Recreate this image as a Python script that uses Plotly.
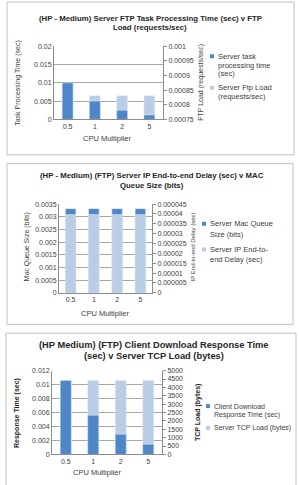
import plotly.graph_objects as go

W, H = 299, 485

categories = ["0.5", "1", "2", "5"]

# Chart 1
c1_task_time = [0.01, 0.005, 0.0025, 0.0012]
c1_ftp_load = [0.000831, 0.000831, 0.000831, 0.000831]
c1_left_ticks = [0, 0.005, 0.01, 0.015, 0.02]
c1_left_labels = ["0", "0.005", "0.01", "0.015", "0.02"]
c1_right_ticks = [0.00075, 0.0008, 0.00085, 0.0009, 0.00095, 0.001]
c1_right_labels = ["0.00075", "0.0008", "0.00085", "0.0009", "0.00095", "0.001"]

# Chart 2
c2_mac_queue = [0.00332, 0.00332, 0.00332, 0.00332]
c2_ip_delay = [0.0000397, 0.0000397, 0.0000397, 0.0000397]
c2_left_ticks = [0, 0.0005, 0.001, 0.0015, 0.002, 0.0025, 0.003, 0.0035]
c2_left_labels = ["0", "0.0005", "0.001", "0.0015", "0.002", "0.0025", "0.003", "0.0035"]
c2_right_ticks = [0, 0.000005, 0.00001, 0.000015, 0.00002, 0.000025, 0.00003, 0.000035, 0.00004, 0.000045]
c2_right_labels = ["0", "0.000005", "0.00001", "0.000015", "0.00002", "0.000025", "0.00003", "0.000035", "0.00004", "0.000045"]

# Chart 3
c3_response = [0.0106, 0.0056, 0.0029, 0.00145]
c3_tcp_load = [4410, 4410, 4410, 4410]
c3_left_ticks = [0, 0.002, 0.004, 0.006, 0.008, 0.01, 0.012]
c3_left_labels = ["0", "0.002", "0.004", "0.006", "0.008", "0.01", "0.012"]
c3_right_ticks = [0, 500, 1000, 1500, 2000, 2500, 3000, 3500, 4000, 4500, 5000]
c3_right_labels = ["0", "500", "1000", "1500", "2000", "2500", "3000", "3500", "4000", "4500", "5000"]

DARK = "#4f86c6"
LIGHT = "#b9cde5"
GRID = "#a6a6a6"
AXL = "#8c8c8c"
TXT = "#404040"
FONT = "Liberation Sans"


def px(x):
    return x / W


def py(y):
    return 1 - y / H


fig = go.Figure()

# ---- traces (base axis first, overlay axis drawn on top)
fig.add_trace(go.Bar(x=categories, y=c1_ftp_load, name="Server Ftp Load (requests/sec)",
                     marker_color=LIGHT, width=0.4, xaxis="x", yaxis="y", showlegend=False))
fig.add_trace(go.Bar(x=categories, y=c1_task_time, name="Server task processing time (sec)",
                     marker_color=DARK, width=0.4, xaxis="x", yaxis="y2", showlegend=False))

fig.add_trace(go.Bar(x=categories, y=c2_mac_queue, name="Server Mac Queue Size (bits)",
                     marker_color=DARK, width=0.45, xaxis="x2", yaxis="y3", showlegend=False))
fig.add_trace(go.Bar(x=categories, y=c2_ip_delay, name="Server IP End-to-end Delay (sec)",
                     marker_color=LIGHT, width=0.45, xaxis="x2", yaxis="y4", showlegend=False))

fig.add_trace(go.Bar(x=categories, y=c3_tcp_load, name="Server TCP Load (bytes)",
                     marker_color=LIGHT, width=0.4, xaxis="x3", yaxis="y5", showlegend=False))
fig.add_trace(go.Bar(x=categories, y=c3_response, name="Client Download Response Time (sec)",
                     marker_color=DARK, width=0.4, xaxis="x3", yaxis="y6", showlegend=False))

tickfont = dict(family=FONT, size=7, color=TXT)


def xax(x0, x1, anchor):
    return dict(domain=[px(x0), px(x1)], anchor=anchor, type="category",
                showline=True, linecolor=AXL, linewidth=1, showgrid=False,
                ticks="", tickfont=tickfont, fixedrange=True)


def yax_left(y0, y1, anchor, rng, tv, tt, overlaying=None):
    d = dict(domain=[py(y1), py(y0)], anchor=anchor, side="left", range=rng,
             tickvals=tv, ticktext=tt, showline=True, linecolor=AXL, linewidth=1,
             showgrid=True, gridcolor=GRID, gridwidth=1, zeroline=False,
             ticks="", tickfont=tickfont, fixedrange=True)
    if overlaying:
        d["overlaying"] = overlaying
    return d


def yax_right(y0, y1, anchor, rng, tv, tt, overlaying=None):
    d = dict(domain=[py(y1), py(y0)], anchor=anchor, side="right", range=rng,
             tickvals=tv, ticktext=tt, showline=True, linecolor=AXL, linewidth=1,
             showgrid=False, zeroline=False, ticks="outside", ticklen=3, tickcolor=AXL,
             tickfont=tickfont, fixedrange=True)
    if overlaying:
        d["overlaying"] = overlaying
    return d


layout = dict(
    width=W, height=H, margin=dict(l=0, r=0, t=0, b=0),
    paper_bgcolor="white", plot_bgcolor="rgba(0,0,0,0)",
    barmode="overlay", showlegend=False,
    font=dict(family=FONT, color=TXT),
    # chart 1
    xaxis=xax(54, 163, "y"),
    yaxis=yax_right(43, 117, "x", [0.00075, 0.001], c1_right_ticks, c1_right_labels),
    yaxis2=yax_left(43, 117, "x", [0, 0.02], c1_left_ticks, c1_left_labels, overlaying="y"),
    # chart 2
    xaxis2=xax(59, 152, "y3"),
    yaxis3=yax_left(203, 293, "x2", [0, 0.0035], c2_left_ticks, c2_left_labels),
    yaxis4=yax_right(203, 293, "x2", [0, 0.000045], c2_right_ticks, c2_right_labels, overlaying="y3"),
    # chart 3
    xaxis3=xax(52, 162, "y5"),
    yaxis5=yax_right(372, 457, "x3", [0, 5000], c3_right_ticks, c3_right_labels),
    yaxis6=yax_left(372, 457, "x3", [0, 0.012], c3_left_ticks, c3_left_labels, overlaying="y5"),
)
fig.update_layout(**layout)

shapes = []
annotations = []

# chart frames
for (x0, y0, x1, y1) in [(7, -2, 294, 153), (7, 162, 293, 325), (6, 334, 296, 490)]:
    shapes.append(dict(type="rect", xref="paper", yref="paper", x0=px(x0), x1=px(x1),
                       y0=py(y1), y1=py(y0), line=dict(color="#bfbfbf", width=1),
                       fillcolor="rgba(0,0,0,0)", layer="below"))


def text(x, y, s, size=7, bold=False, angle=0, xanchor="center"):
    annotations.append(dict(x=px(x), y=py(y), xref="paper", yref="paper", text=s,
                            showarrow=False, xanchor=xanchor, yanchor="middle",
                            textangle=angle,
                            font=dict(family=FONT, size=size, color="#262626" if bold else TXT,
                                      weight="bold" if bold else "normal")))


def legend_item(x, y, color, lines, size=7, lh=9):
    shapes.append(dict(type="rect", xref="paper", yref="paper", x0=px(x), x1=px(x + 4),
                       y0=py(y + 2), y1=py(y - 2), line=dict(width=0), fillcolor=color))
    for i, ln in enumerate(lines):
        text(x + 6, y + i * lh, ln, size=size, xanchor="left")


# Chart 1 texts
text(150, 15, "(HP - Medium) Server FTP Task Processing Time (sec) v FTP", size=7.8, bold=True)
text(150, 24, "Load (requests/sec)", size=7.8, bold=True)
text(18, 80, "Task Processing Time (sec)", size=7, angle=-90)
text(201, 80, "FTP Load (requests/sec)", size=7, angle=-90)
text(107, 136, "CPU Multiplier", size=7.5)
legend_item(210, 53, DARK, ["Server task", "processing time", "(sec)"], size=7.5, lh=9)
legend_item(210, 85, LIGHT, ["Server Ftp Load", "(requests/sec)"], size=7.5, lh=9)

# Chart 2 texts
text(152, 174, "(HP - Medium) (FTP) Server IP End-to-end Delay (sec) v MAC", size=7.8, bold=True)
text(152, 184, "Queue Size (bits)", size=7.8, bold=True)
text(27, 247, "Mac Queue Size (bits)", size=7, angle=-90)
text(193, 247, "IP End-to-end Delay (sec)", size=6, angle=-90)
text(105, 314, "CPU Multiplier", size=7.5)
legend_item(202, 223, DARK, ["Server Mac Queue", "Size (bits)"], size=7.5, lh=11)
legend_item(202, 249, LIGHT, ["Server IP End-to-", "end Delay (sec)"], size=7.5, lh=10)

# Chart 3 texts
text(154, 346, "(HP Medium) (FTP) Client Download Response Time", size=9.3, bold=True)
text(154, 357, "(sec) v Server TCP Load (bytes)", size=9.3, bold=True)
text(17, 415, "Response Time (sec)", size=7, bold=True, angle=-90)
text(198, 415, "TCP Load (bytes)", size=7, bold=True, angle=-90)
text(97, 475, "CPU Multiplier", size=7.5)
legend_item(206, 408, DARK, ["Client Download", "Response Time (sec)"], lh=9)
legend_item(206, 430, LIGHT, ["Server TCP Load (bytes)"], lh=9)

fig.update_layout(shapes=shapes, annotations=annotations)
fig.write_html("out.html")
